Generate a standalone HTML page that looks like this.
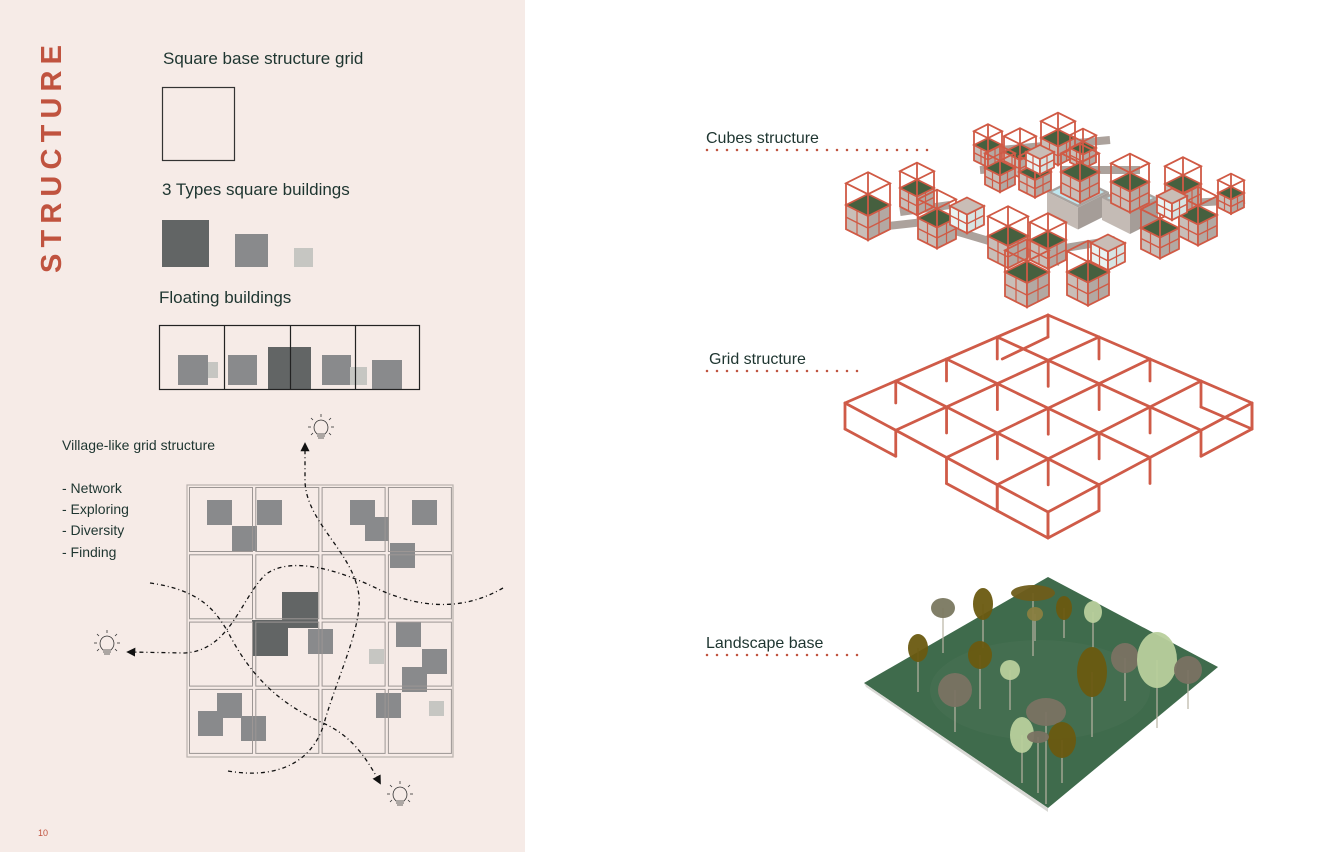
<!DOCTYPE html>
<html><head><meta charset="utf-8"><style>
html,body{margin:0;padding:0;width:1318px;height:852px;overflow:hidden;background:#fff}
svg{display:block}
.t{font-family:"Liberation Sans",sans-serif;fill:#1e3530}
</style></head><body>
<svg id="s" width="1318" height="852" viewBox="0 0 1318 852" xmlns="http://www.w3.org/2000/svg">
<defs>
<marker id="ah" viewBox="0 0 10 10" refX="8" refY="5" markerWidth="7" markerHeight="7" orient="auto"><path d="M0,0 L10,5 L0,10 z" fill="#111"/></marker>
</defs>
<rect x="0" y="0" width="525" height="852" fill="#f6ebe7"/>
<text x="0" y="0" transform="translate(61,273) rotate(-90)" font-family="Liberation Sans,sans-serif" font-weight="bold" font-size="29" fill="#c0533f" textLength="228" lengthAdjust="spacing">STRUCTURE</text>
<text class="t" x="163" y="64" font-size="17">Square base structure grid</text>
<rect x="162.5" y="87.5" width="72" height="73" fill="none" stroke="#333" stroke-width="1.2"/>
<text class="t" x="162" y="195" font-size="17">3 Types square buildings</text>
<rect x="162" y="220" width="47" height="47" fill="#626565"/>
<rect x="235" y="234" width="33" height="33" fill="#898a8c"/>
<rect x="294" y="248" width="19" height="19" fill="#c6c6c2"/>
<text class="t" x="159" y="303" font-size="17">Floating buildings</text>
<rect x="178" y="355" width="30" height="30" fill="#898a8c"/>
<rect x="208" y="362" width="10" height="16" fill="#c6c6c2"/>
<rect x="228" y="355" width="29" height="30" fill="#898a8c"/>
<rect x="268" y="347" width="43" height="42" fill="#626565"/>
<rect x="322" y="355" width="29" height="30" fill="#898a8c"/>
<rect x="350" y="367" width="17" height="18" fill="#c6c6c2"/>
<rect x="372" y="360" width="30" height="29" fill="#898a8c"/>
<g fill="none" stroke="#222" stroke-width="1.2">
<rect x="159.5" y="325.5" width="260" height="64"/>
<line x1="224.5" y1="325" x2="224.5" y2="390"/><line x1="290.5" y1="325" x2="290.5" y2="390"/><line x1="355.5" y1="325" x2="355.5" y2="390"/>
</g>
<text class="t" x="62" y="450" font-size="14">Village-like grid structure</text>
<text class="t" x="62" y="493" font-size="14">- Network</text>
<text class="t" x="62" y="514" font-size="14">- Exploring</text>
<text class="t" x="62" y="535" font-size="14">- Diversity</text>
<text class="t" x="62" y="557" font-size="14">- Finding</text>
<g id="vg"></g>
<text x="38" y="836" font-family="Liberation Sans,sans-serif" font-size="9" fill="#c0533f">10</text>

<text class="t" x="706" y="143" font-size="16">Cubes structure</text>
<text class="t" x="709" y="364" font-size="16">Grid structure</text>
<text class="t" x="706" y="648" font-size="16">Landscape base</text>
<line x1="707" y1="150" x2="930" y2="150" stroke="#c0533f" stroke-width="2.5" stroke-linecap="round" stroke-dasharray="0 10"/>
<line x1="707" y1="371" x2="858" y2="371" stroke="#c0533f" stroke-width="2.5" stroke-linecap="round" stroke-dasharray="0 10"/>
<line x1="707" y1="655" x2="858" y2="655" stroke="#c0533f" stroke-width="2.5" stroke-linecap="round" stroke-dasharray="0 10"/>

<polygon points="1048,577 1218,667 1048,808 864,683" fill="#3f6b4c"/>
<polygon points="1048,808 864,683 866,687 1048,812" fill="#d8d8d4"/>
<g id="trees"></g>
<g id="grid" fill="none" stroke="#cf5b48" stroke-width="2.8" stroke-linecap="round"></g>
<g id="cubes"></g>
</svg>
<script>
var NS="http://www.w3.org/2000/svg";
function el(p,tag,a){var e=document.createElementNS(NS,tag);for(var k in a)e.setAttribute(k,a[k]);p.appendChild(e);return e;}
var vg=document.getElementById('vg');
var sq=[[207,500,25,'#898a8c'],[232,526,25,'#898a8c'],[257,500,25,'#898a8c'],[350,500,25,'#898a8c'],[365,517,24,'#898a8c'],[412,500,25,'#898a8c'],[390,543,25,'#898a8c'],
[282,592,36,'#626565'],[252,620,36,'#626565'],[308,629,25,'#898a8c'],[369,649,15,'#c6c6c2'],[396,622,25,'#898a8c'],[422,649,25,'#898a8c'],[402,667,25,'#898a8c'],
[217,693,25,'#898a8c'],[198,711,25,'#898a8c'],[241,716,25,'#898a8c'],[376,693,25,'#898a8c'],[429,701,15,'#c6c6c2']];
sq.forEach(function(s){var h=s[2];el(vg,'rect',{x:s[0],y:s[1],width:h,height:h,fill:s[3]});});
el(vg,'rect',{x:282,y:620,width:6,height:9,fill:'#626565'});
el(vg,'rect',{x:187,y:485,width:266,height:272,fill:'none',stroke:'#b9b2ae','stroke-width':1.2});
for(var i=0;i<4;i++)for(var j=0;j<4;j++){el(vg,'rect',{x:189.5+i*66.3,y:487.5+j*67.3,width:63,height:64,fill:'none',stroke:'#9c9694','stroke-width':1});}
var dp={fill:'none',stroke:'#111','stroke-width':1.3,'stroke-dasharray':'4 3 1 3'};
el(vg,'path',Object.assign({},dp,{d:'M150,583 C200,590 215,610 228,632 C245,665 270,700 323,723 C350,735 365,755 380,783','marker-end':'url(#ah)'}));
el(vg,'path',Object.assign({},dp,{d:'M503,588 C470,607 430,612 380,590 C340,570 290,555 265,575 C240,600 230,650 185,653 L128,652','marker-end':'url(#ah)'}));
el(vg,'path',Object.assign({},dp,{d:'M228,771 C280,780 315,760 325,720 C340,670 365,620 358,590 C350,550 305,520 305,480 L305,444','marker-end':'url(#ah)'}));
function bulb(x,y){var g=el(vg,'g',{fill:'none',stroke:'#333','stroke-width':0.8});
el(g,'path',{d:'M'+(x-4)+','+(y+6)+' C'+(x-10)+','+(y)+' '+(x-6)+','+(y-8)+' '+x+','+(y-8)+' C'+(x+6)+','+(y-8)+' '+(x+10)+','+y+' '+(x+4)+','+(y+6)+' Z'});
el(g,'path',{d:'M'+(x-4)+','+(y+8)+'h8M'+(x-3)+','+(y+10)+'h6'});
[[0,-14,0,-11],[-10,-10,-8,-8],[10,-10,8,-8],[-13,-1,-10,-1],[13,-1,10,-1],[-10,7,-8,5],[10,7,8,5]].forEach(function(r){el(g,'line',{x1:x+r[0],y1:y+r[1],x2:x+r[2],y2:y+r[3]});});}
bulb(321,428);bulb(107,644);bulb(400,795);
// grid
var gr=document.getElementById('grid');
function P(a,b){var L=[845,403],T=[1048,315],R=[1252,403],B=[1048,512];
var u=a/4,v=b/4;
var x=L[0]*(1-u)*(1-v)+T[0]*u*(1-v)+B[0]*(1-u)*v+R[0]*u*v;
var y=L[1]*(1-u)*(1-v)+T[1]*u*(1-v)+B[1]*(1-u)*v+R[1]*u*v;return [x,y];}
function ln(p,q){el(gr,'line',{x1:p[0],y1:p[1],x2:q[0],y2:q[1]});}
for(var k=0;k<=4;k++){ln(P(k,0),P(k,4));ln(P(0,k),P(4,k));}
var D=26;
function leg(a,b,d){var p=P(a,b);ln(p,[p[0],p[1]+(d||D)]);}
for(var i=1;i<4;i++)for(var j=1;j<4;j++)leg(i,j);
function hang(a1,b1,a2,b2){var p=P(a1,b1),q=P(a2,b2);ln([p[0],p[1]+D],[q[0],q[1]+D]);ln(p,[p[0],p[1]+D]);ln(q,[q[0],q[1]+D]);}
hang(0,0,0,1);hang(0,2,0,3);hang(0,3,0,4);hang(0,4,1,4);hang(3,4,4,4);hang(4,4,4,3);
leg(1,0,22);leg(2,0,22);leg(3,0,22);leg(4,0,22);leg(4,1,22);leg(4,2,22);leg(2,4);leg(1,4);
ln([P(4,0)[0],P(4,0)[1]+22],[P(3,0)[0]+5,P(3,0)[1]+22]);
// cubes
var cg=document.getElementById('cubes');
function pool(cx,cy,s){el(cg,'polygon',{points:[cx,cy-s/4,cx+s/2,cy,cx,cy+s/4,cx-s/2,cy].join(' '),fill:'#a9a39f'});
el(cg,'polygon',{points:[cx,cy-s/4+3,cx+s/2-5,cy,cx,cy+s/4-3,cx-s/2+5,cy].join(' '),fill:'#bfe6ee'});
el(cg,'polygon',{points:[cx-s/2,cy,cx,cy+s/4,cx,cy+s/4+22,cx-s/2,cy+22].join(' '),fill:'#c4bbb5'});
el(cg,'polygon',{points:[cx+s/2,cy,cx,cy+s/4,cx,cy+s/4+22,cx+s/2,cy+22].join(' '),fill:'#a59d98'});}
[[870,228,960,218],[900,212,950,205],[935,225,1060,262],[1000,150,1110,140],[980,170,1040,165],[1150,205,1245,200],[1040,252,1115,240],[1060,170,1140,170]].forEach(function(w){el(cg,'line',{x1:w[0],y1:w[1],x2:w[2],y2:w[3],stroke:'#aca29c','stroke-width':8});});
pool(1078,192,62);pool(1130,198,56);
function cube(cx,cy,s,white){var h=s*0.55,q=s/4,r=s/2;
var top=[cx,cy-q,cx+r,cy,cx,cy+q,cx-r,cy];
el(cg,'polygon',{points:[cx-r,cy,cx,cy+q,cx,cy+q+h,cx-r,cy+h].join(' '),fill:white?'#e9f3f2':'#c9beb8',stroke:'#d05a45','stroke-width':1.8});
el(cg,'polygon',{points:[cx+r,cy,cx,cy+q,cx,cy+q+h,cx+r,cy+h].join(' '),fill:white?'#d6e4e3':'#b3a8a2',stroke:'#d05a45','stroke-width':1.8});
el(cg,'line',{x1:cx-r,y1:cy+h/2,x2:cx,y2:cy+q+h/2,stroke:'#d05a45','stroke-width':1.4});
el(cg,'line',{x1:cx+r,y1:cy+h/2,x2:cx,y2:cy+q+h/2,stroke:'#d05a45','stroke-width':1.4});
el(cg,'line',{x1:cx-r/2,y1:cy+q/2,x2:cx-r/2,y2:cy+q/2+h,stroke:'#d05a45','stroke-width':1.2});
el(cg,'line',{x1:cx+r/2,y1:cy+q/2,x2:cx+r/2,y2:cy+q/2+h,stroke:'#d05a45','stroke-width':1.2});
el(cg,'polygon',{points:top.join(' '),fill:white?'#c9bdb6':'#46603f',stroke:'#d05a45','stroke-width':1.8});
if(!white){var t2=top.slice();for(var i=1;i<8;i+=2)t2[i]-=h*0.9;
el(cg,'polygon',{points:t2.join(' '),fill:'none',stroke:'#d05a45','stroke-width':1.8});
for(var i=0;i<8;i+=2)el(cg,'line',{x1:top[i],y1:top[i+1],x2:t2[i],y2:t2[i+1],stroke:'#d05a45','stroke-width':1.8});}}
[[988,145,28],[1020,152,32],[1058,138,34],[1083,148,26],[1000,168,30],[1035,172,32],[1080,172,38],
[917,188,34],[868,205,44],[937,218,38],[1130,182,38],[1183,184,36],[1231,193,26],
[1008,236,40],[1048,240,36],[1160,228,38],[1198,215,38],[1027,272,44],[1088,272,42]].forEach(function(c){cube(c[0],c[1],c[2],false);});
cube(967,206,34,true);cube(1040,152,28,true);cube(1108,243,34,true);cube(1172,196,30,true);
// trees
var tg=document.getElementById('trees');
el(tg,'ellipse',{cx:1040,cy:690,rx:110,ry:50,fill:'#4a7253',opacity:0.5});
var tr=[[943,608,12,10,'#7a7860',35],[918,648,10,14,'#6a5a10',30],[983,604,10,16,'#6a5a10',28],[1033,593,22,8,'#6f5d1a',55],[1035,614,8,7,'#8a8040',20],[1064,608,8,12,'#6a5a10',18],[1093,612,9,11,'#b8cf9c',25],
[980,655,12,14,'#6a5a10',40],[1010,670,10,10,'#b8cf9c',30],[955,690,17,17,'#7a7262',25],[1092,672,15,25,'#6a5a10',40],[1125,658,14,15,'#7a7262',28],[1157,660,20,28,'#b8cf9c',40],[1188,670,14,14,'#7a7262',25],
[1046,712,20,14,'#7a7262',78],[1022,735,12,18,'#b8cf9c',30],[1062,740,14,18,'#6a5a10',25],[1038,737,11,6,'#7a7262',50]];
tr.forEach(function(t){el(tg,'line',{x1:t[0],y1:t[1],x2:t[0],y2:t[1]+t[3]+t[5],stroke:'#b9b4a4','stroke-width':1.2});
el(tg,'ellipse',{cx:t[0],cy:t[1],rx:t[2],ry:t[3],fill:t[4],opacity:0.95});});
</script>
</body></html>
